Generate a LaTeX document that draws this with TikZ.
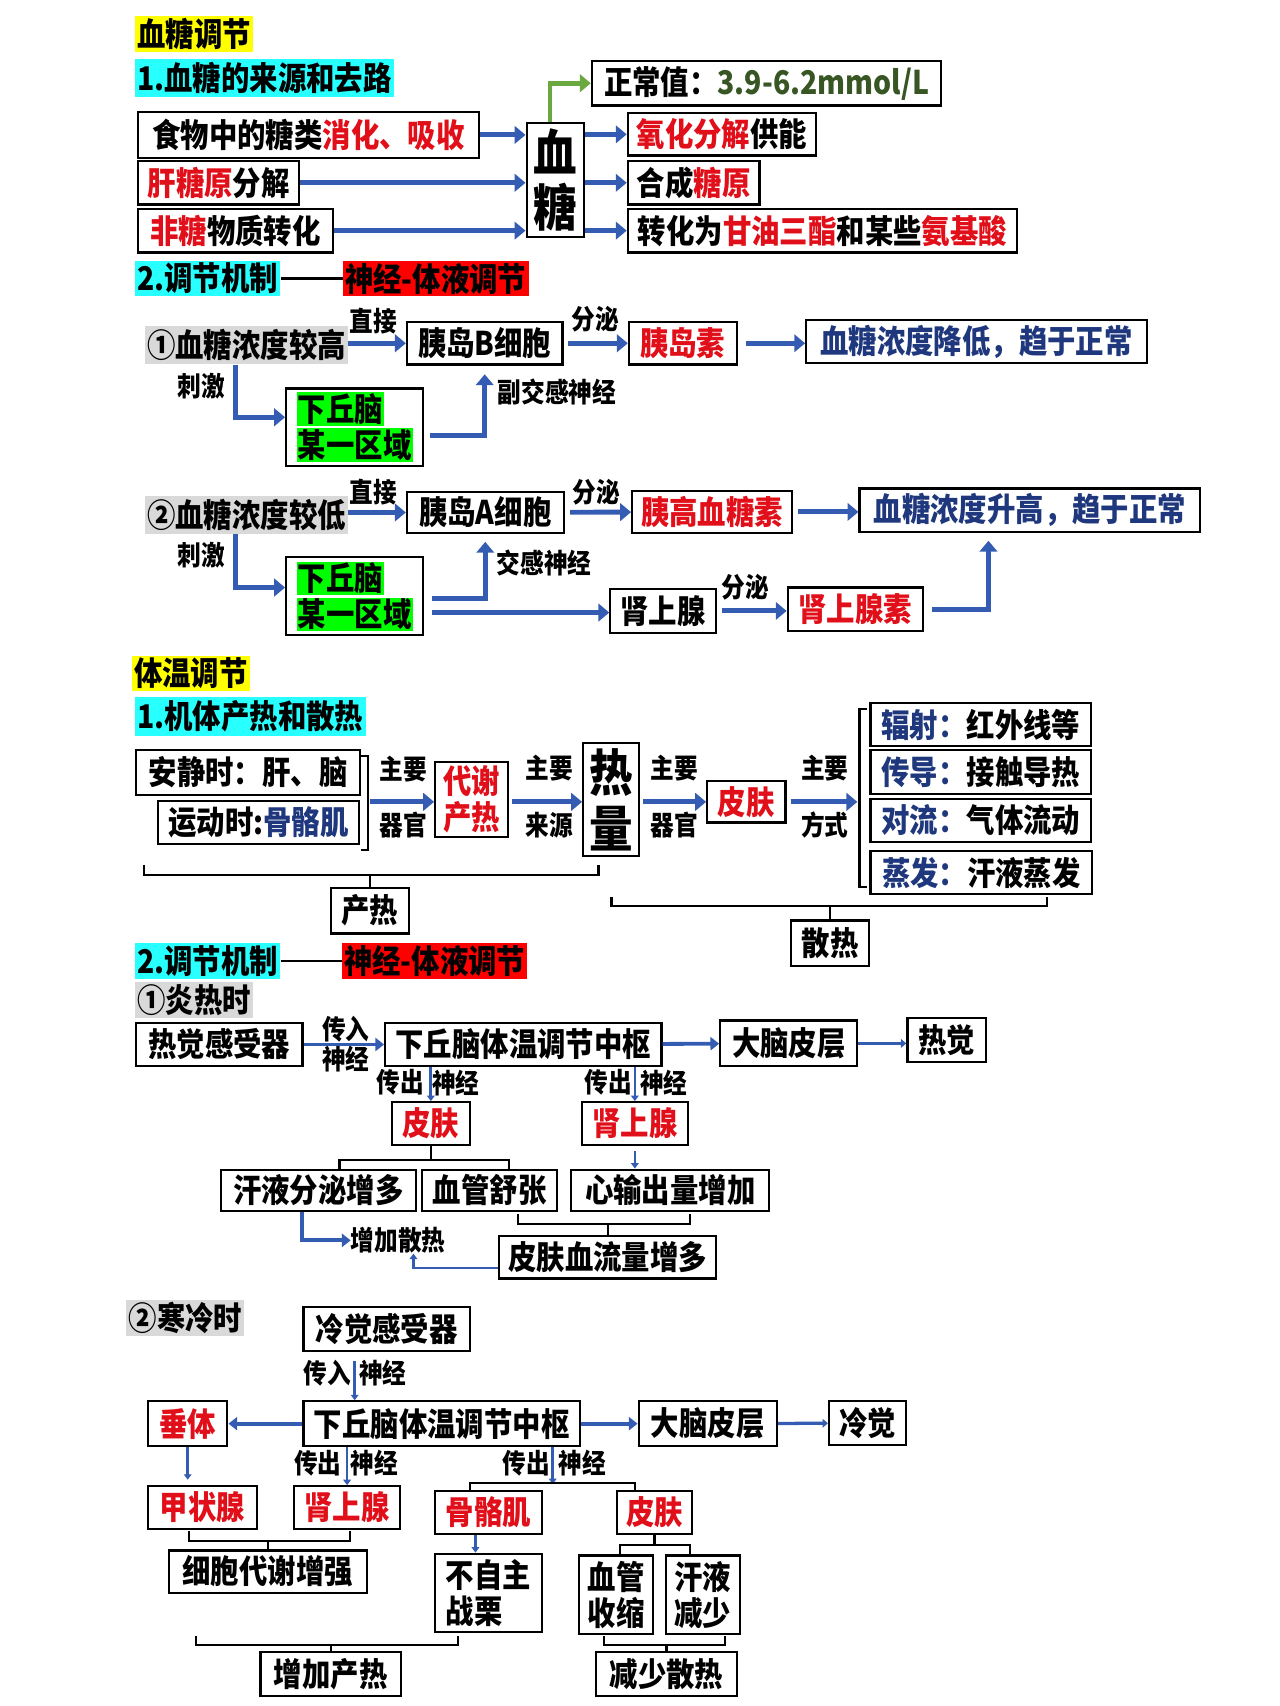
\documentclass[tikz,border=0pt]{standalone}
\usepackage{fontspec}
\setmainfont{Noto Sans CJK SC}[FakeStretch=0.87]
\usepackage{tikz}
\usetikzlibrary{arrows.meta}
\definecolor{hlyellow}{RGB}{255,255,0}
\definecolor{hlcyan}{RGB}{40,255,255}
\definecolor{hlred}{RGB}{255,0,0}
\definecolor{hlgray}{RGB}{217,217,217}
\definecolor{hlgreen}{RGB}{0,255,0}
\definecolor{txtred}{RGB}{225,15,25}
\definecolor{txtnavy}{RGB}{30,55,125}
\definecolor{txtgreen}{RGB}{55,86,35}
\definecolor{arrowblue}{RGB}{52,92,178}
\definecolor{arrowgreen}{RGB}{106,168,64}
\newcommand{\mainsize}{\bfseries\fontsize{30pt}{33pt}\selectfont}
\newcommand{\lblsize}{\bfseries\fontsize{25pt}{27pt}\selectfont}
\newcommand{\bigsize}{\bfseries\fontsize{46pt}{51pt}\selectfont}
\newcommand{\rd}[1]{\textcolor{txtred}{#1}}
\newcommand{\nv}[1]{\textcolor{txtnavy}{#1}}
\newcommand{\hlg}[1]{{\setlength{\fboxsep}{1pt}\colorbox{hlgreen}{#1}}}
\tikzstyle{box} = [
	rectangle,
	draw=black,
	line width=2pt,
	fill=white,
	inner sep=3pt,
	text centered,
	minimum height=40pt
]
\tikzstyle{hl} = [inner sep=2pt, anchor=west]
\tikzstyle{lbl} = [font=\lblsize, inner sep=0pt]
\tikzstyle{brace} = [line width=2pt, draw=black]
\tikzstyle{arrow} = [line width=4.5pt, draw=arrowblue, -{Triangle[length=10pt,width=16pt]}]
\tikzstyle{greenarrow} = [line width=4.5pt, draw=arrowgreen, -{Triangle[length=10pt,width=16pt]}]
\tikzstyle{midarrow} = [line width=3.5pt, draw=arrowblue, -{Triangle[length=8pt,width=12pt]}]
\tikzstyle{thinarrow} = [line width=3pt, draw=arrowblue, -{Triangle[length=5pt,width=8pt]}]
\tikzstyle{nerve} = [line width=2.5pt, draw=arrowblue, -{Triangle[length=5pt,width=7pt]}]
\begin{document}
\begin{tikzpicture}[x=1pt, y=-1pt, font=\mainsize]
	\useasboundingbox (0,0) rectangle (1176,1568);

	% sources and uses of blood sugar
	\node (bsTitle) [hl, fill=hlyellow, minimum height=32pt] at (124,31) {血糖调节};
	\node (srcTitle) [hl, fill=hlcyan, minimum height=35pt] at (124,72) {1.血糖的来源和去路};
	\node (food) [box, minimum width=313pt, minimum height=42pt] at (283.5,124) {食物中的糖类\rd{消化、吸收}};
	\node (liver) [box, minimum width=148pt] at (201,168) {\rd{肝糖原}分解};
	\node (nonsugar) [box, minimum width=179pt] at (216.5,212) {\rd{非糖}物质转化};
	\node (sugar) [box, font=\bigsize, minimum width=53pt, minimum height=105pt, align=center] at (510.5,165.5) {血\\糖};
	\node (normal) [box, minimum width=321pt, minimum height=41pt] at (704.5,76.5) {正常值：\textcolor{txtgreen}{3.9-6.2mmol/L}};
	\node (oxid) [box, minimum width=173pt, minimum height=39pt] at (663.5,123.5) {\rd{氧化分解}供能};
	\node (glycogen) [box, minimum width=121pt] at (637.5,168) {合成\rd{糖原}};
	\node (convert) [box, minimum width=358pt] at (756,212) {转化为\rd{甘油三酯}和某些\rd{氨基酸}};

	\draw [arrow] (food.east) -- (food.east -| sugar.west);
	\draw [arrow] (liver.east) -- (liver.east -| sugar.west);
	\draw [arrow] (nonsugar.east) -- (nonsugar.east -| sugar.west);
	\draw [arrow] (sugar.east |- oxid.west) -- (oxid.west);
	\draw [arrow] (sugar.east |- glycogen.west) -- (glycogen.west);
	\draw [arrow] (sugar.east |- convert.west) -- (convert.west);
	\draw [greenarrow] ([xshift=-5pt]sugar.north) |- (normal.west);

	% regulation of blood sugar
	\node (mechTitle) [hl, fill=hlcyan, minimum height=32pt] at (124,256) {2.调节机制};
	\node (neuro) [hl, fill=hlred, minimum height=32pt] at (315,256) {神经-体液调节};
	\draw [line width=2pt] (mechTitle.east) -- (neuro.west);

	\node (high) [hl, fill=hlgray, minimum height=35pt] at (133,317.5) {①血糖浓度较高};
	\node (beta) [box, minimum width=143pt, minimum height=39pt] at (445.5,315.5) {胰岛B细胞};
	\node (insulin) [box, minimum width=99pt, minimum height=39pt] at (627.5,315.5) {\rd{胰岛素}};
	\node (lower) [box, minimum width=313pt] at (897.5,314) {\nv{血糖浓度降低，趋于正常}};
	\node (direct1) [lbl] at (343,295) {直接};
	\node (secrete1) [lbl] at (547,293) {分泌};
	\node (stim1) [lbl] at (185,355) {刺激};
	\node (hypo1) [box, minimum width=126pt, minimum height=71pt, align=left] at (326,392.5) {\hlg{下丘脑}\\\hlg{某一区域}};
	\node (psym) [lbl] at (512,360) {副交感神经};

	\draw [arrow] (high.east |- beta.west) -- (beta.west);
	\draw [arrow, shorten <=4pt] (beta) -- (insulin);
	\draw [arrow, shorten <=8pt] (insulin.east) -- (insulin.east -| lower.west);
	\draw [arrow] ([xshift=-10pt]high.south) |- ([yshift=9pt]hypo1.west);
	\draw [arrow, shorten <=5pt] ([yshift=-8pt]hypo1.east) -| ([yshift=-8pt]beta.south);

	\node (low) [hl, fill=hlgray, minimum height=35pt] at (133,473) {②血糖浓度较低};
	\node (alpha) [box, minimum width=144pt, minimum height=38pt] at (446,471) {胰岛A细胞};
	\node (glucagon) [box, minimum width=147pt, minimum height=39pt] at (654.5,470.5) {\rd{胰高血糖素}};
	\node (raise) [box, minimum width=313pt] at (946.5,469) {\nv{血糖浓度升高，趋于正常}};
	\node (direct2) [lbl] at (343,452) {直接};
	\node (secrete2) [lbl] at (548,452) {分泌};
	\node (stim2) [lbl] at (185,510) {刺激};
	\node (hypo2) [box, minimum width=126pt, minimum height=72pt, align=left] at (326,548) {\hlg{下丘脑}\\\hlg{某一区域}};
	\node (sym) [lbl] at (500,517) {交感神经};
	\node (adrenal) [box, minimum width=97pt, minimum height=41pt] at (609.5,561.5) {肾上腺};
	\node (secrete3) [lbl] at (685,540) {分泌};
	\node (adrenaline) [box, minimum width=124pt, minimum height=40pt] at (786,560) {\rd{肾上腺素}};

	\draw [arrow] (low.east |- alpha.west) -- (alpha.west);
	\draw [arrow, shorten <=5pt] (alpha) -- (glucagon);
	\draw [arrow, shorten <=4pt] (glucagon.east) -- (glucagon.east -| raise.west);
	\draw [arrow] ([xshift=-10pt]low.south) |- ([yshift=8pt]hypo2.west);
	\draw [arrow, shorten <=7pt] ([yshift=-2pt]hypo2.east) -| ([yshift=-7pt]alpha.south);
	\draw [arrow, shorten <=7pt] ([yshift=-15pt]hypo2.east) -- ([yshift=-15pt]hypo2.east -| adrenal.west);
	\draw [arrow, shorten <=5pt] (adrenal.east) -- (adrenal.east -| adrenaline.west);
	\draw [arrow, shorten <=8pt] (adrenaline.east) -| ([xshift=-38pt,yshift=-7pt]raise.south);

	% heat production and loss
	\node (btTitle) [hl, fill=hlyellow, minimum height=30pt] at (121,619) {体温调节};
	\node (heatTitle) [hl, fill=hlcyan, minimum height=35pt] at (124,658.5) {1.机体产热和散热};
	\node (rest) [box, minimum width=206pt, minimum height=42pt] at (228,710) {安静时：肝、脑};
	\node (exercise) [box, minimum width=185pt, minimum height=40pt] at (237.5,756) {运动时:\nv{骨骼肌}};
	\draw [brace] (332,695) -- (338,695) -- (338,781) -- (332,781);
	\coordinate (prodJoin) at (340,737);
	\node (main1) [lbl] at (371,707) {主要};
	\node (organ1) [lbl] at (371,758) {器官};
	\node (metab) [box, minimum width=67pt, minimum height=69pt, align=center] at (433.5,734.5) {\rd{代谢}\\\rd{产热}};
	\node (main2) [lbl] at (505,706) {主要};
	\node (source) [lbl] at (505,758) {来源};
	\node (heat) [box, font=\bigsize, minimum width=51pt, minimum height=104pt, align=center] at (561.5,735) {热\\量};
	\node (main3) [lbl] at (620,706) {主要};
	\node (organ2) [lbl] at (620,758) {器官};
	\node (skin1) [box, minimum width=72pt, minimum height=38pt] at (686,737) {\rd{皮肤}};
	\node (main4) [lbl] at (758,706) {主要};
	\node (way) [lbl] at (758,758) {方式};
	\coordinate (lossJoin) at (788,737);
	\draw [brace] (797,652) -- (790,652) -- (790,815) -- (797,815);
	\node (radiate) [box, minimum width=203pt, minimum height=40pt] at (901.5,666) {\nv{辐射：}红外线等};
	\node (conduct) [box, minimum width=203pt, minimum height=41pt] at (901.5,709.5) {\nv{传导：}接触导热};
	\node (convect) [box, minimum width=203pt, minimum height=40pt] at (901.5,754) {\nv{对流：}气体流动};
	\node (evapor) [box, minimum width=204pt, minimum height=40pt] at (902,802) {\nv{蒸发：}汗液蒸发};

	\draw [arrow] (prodJoin) -- (prodJoin -| metab.west);
	\draw [arrow, shorten <=3pt] (metab.east |- prodJoin) -- (heat.west |- prodJoin);
	\draw [arrow, shorten <=3pt] (heat.east |- skin1.west) -- (skin1.west);
	\draw [arrow, shorten <=4pt] (skin1.east) -- (lossJoin);

	\node (prod) [box, minimum width=72pt, minimum height=42pt] at (340,837) {产热};
	\draw [brace] (132,795) -- (132,804) -- (550,804) -- (550,795);
	\draw [brace] (prod.north) -- ++(0,-12);
	\node (loss) [box, minimum width=72pt, minimum height=42pt] at (763,867) {散热};
	\draw [brace] (562,824) -- (562,833) -- (962,833) -- (962,824);
	\draw [brace] (loss.north) -- ++(0,-13);

	% regulation of body temperature
	\node (mechTitle2) [hl, fill=hlcyan, minimum height=33pt] at (124,883.5) {2.调节机制};
	\node (neuro2) [hl, fill=hlred, minimum height=33pt] at (314,883.5) {神经-体液调节};
	\draw [line width=2pt] (mechTitle2.east) -- (neuro2.west);

	\node (hot) [hl, fill=hlgray, minimum height=33pt] at (124,919.5) {①炎热时};
	\node (hotRec) [box, minimum width=153pt, minimum height=40pt] at (201.5,960) {热觉感受器};
	\node (aff1a) [lbl] at (318,946) {传入};
	\node (aff1b) [lbl] at (318,973) {神经};
	\node (hotCenter) [box, minimum width=254pt, minimum height=40pt] at (481,960) {下丘脑体温调节中枢};
	\node (cortex1) [box, minimum width=126pt, minimum height=42pt] at (725,959) {大脑皮层};
	\node (hotFeel) [box, minimum width=72pt, minimum height=40pt] at (870,956) {热觉};
	\node (skin2) [box, minimum width=72pt, minimum height=39pt] at (396,1032.5) {\rd{皮肤}};
	\node (adr2) [box, minimum width=97pt, minimum height=39pt] at (583.5,1032.5) {\rd{肾上腺}};
	\node (eff1a) [lbl] at (368,995) {传出};
	\node (eff1b) [lbl] at (419,995) {神经};
	\node (eff2a) [lbl] at (559,995) {传出};
	\node (eff2b) [lbl] at (610,995) {神经};

	\draw [midarrow] (hotRec) -- (hotCenter);
	\draw [midarrow] (hotCenter) -- (cortex1);
	\draw [thinarrow] (cortex1.east) -- (cortex1.east -| hotFeel.west);
	\draw [nerve] (skin2.north |- hotCenter.south) -- (skin2.north);
	\draw [nerve] (adr2.north |- hotCenter.south) -- (adr2.north);

	\node (sweat) [box, minimum width=179pt, minimum height=38pt] at (292.5,1094) {汗液分泌增多};
	\node (vaso) [box, minimum width=124pt, minimum height=38pt] at (450,1094) {血管舒张};
	\node (cardiac) [box, minimum width=182pt, minimum height=38pt] at (616,1094) {心输出量增加};
	\draw [brace] (skin2.south) -- ++(0,14);
	\draw [brace] (312,1074) -- (312,1066) -- (468,1066) -- (468,1074);
	\draw [nerve] ([yshift=-5pt]adr2.south) -- (adr2.south |- cardiac.north);

	\node (bloodflow) [box, minimum width=199pt, minimum height=39pt] at (558.5,1155.5) {皮肤血流量增多};
	\draw [brace] (476,1116) -- (476,1125) -- (634,1125) -- (634,1116);
	\draw [brace] (bloodflow.north) -- ++(0,-10);
	\node (moreLoss) [lbl] at (366,1140) {增加散热};
	\draw [midarrow] ([xshift=-15pt]sweat.south) |- (moreLoss.west);
	\draw [nerve] ([yshift=-10pt]bloodflow.west) -| ([xshift=14pt]moreLoss.south);

	\node (cold) [hl, fill=hlgray, minimum height=33pt] at (116,1211.5) {②寒冷时};
	\node (coldRec) [box, minimum width=153pt, minimum height=41pt] at (355.5,1221.5) {冷觉感受器};
	\node (aff2a) [lbl] at (301,1262) {传入};
	\node (aff2b) [lbl] at (352,1262) {神经};
	\node (coldCenter) [box, minimum width=254pt, minimum height=41pt] at (406,1308.5) {下丘脑体温调节中枢};
	\node (pit) [box, minimum width=73pt, minimum height=41pt] at (172.5,1308.5) {\rd{垂体}};
	\node (cortex2) [box, minimum width=127pt, minimum height=41pt] at (650.5,1308.5) {大脑皮层};
	\node (coldFeel) [box, minimum width=71pt, minimum height=40pt] at (797.5,1308) {冷觉};

	\draw [nerve] ([xshift=-29.5pt,yshift=-8pt]coldRec.south) -- ([xshift=-80pt]coldCenter.north);
	\draw [midarrow] (coldCenter) -- (pit);
	\draw [midarrow] (coldCenter) -- (cortex2);
	\draw [thinarrow] (cortex2) -- (coldFeel);

	\node (thyroid) [box, minimum width=100pt, minimum height=39pt] at (186,1385.5) {\rd{甲状腺}};
	\node (adr3) [box, minimum width=98pt, minimum height=39pt] at (319,1385.5) {\rd{肾上腺}};
	\node (eff3a) [lbl] at (292,1345) {传出};
	\node (eff3b) [lbl] at (344,1345) {神经};
	\node (eff4a) [lbl] at (484,1345) {传出};
	\node (eff4b) [lbl] at (535,1345) {神经};
	\draw [nerve, shorten >=5pt] (pit.south) -- (pit.south |- thyroid.north);
	\draw [nerve] (adr3.north |- coldCenter.south) -- (adr3.north);

	\node (cellMetab) [box, minimum width=182pt, minimum height=39pt] at (246,1444.5) {细胞代谢增强};
	\draw [brace] (174,1407) -- (174,1416) -- (322,1416) -- (322,1407);
	\draw [brace] (cellMetab.north) -- ++(0,-9);

	\draw [nerve] ([xshift=102pt]coldCenter.south) -- ++(0,34);
	\draw [brace] (432,1370) -- (432,1363) -- (584,1363) -- (584,1370);
	\node (skeletal) [box, minimum width=98pt, minimum height=40pt] at (449,1390) {\rd{骨骼肌}};
	\node (skin3) [box, minimum width=69pt, minimum height=40pt] at (601.5,1390) {\rd{皮肤}};
	\node (shiver) [box, minimum width=98pt, minimum height=72pt, align=left] at (449,1464) {不自主\\战栗};
	\draw [nerve] ([xshift=-12pt]skeletal.south) -- ([xshift=-12pt]shiver.north);
	\draw [brace] (skin3.south) -- ++(0,10);
	\draw [brace] (570,1429) -- (570,1420) -- (634,1420) -- (634,1429);
	\node (vasoC) [box, minimum width=68pt, minimum height=72pt, align=center] at (566.5,1465.6) {血管\\收缩};
	\node (sweatC) [box, minimum width=68pt, minimum height=72pt, align=center] at (646,1465.6) {汗液\\减少};

	\node (moreProd) [box, minimum width=129pt, minimum height=40pt] at (304,1538.7) {增加产热};
	\draw [brace] (180,1504) -- (180,1512) -- (421,1512) -- (421,1504);
	\draw [brace] (moreProd.north) -- ++(0,-7);
	\node (lessLoss) [box, minimum width=129pt, minimum height=40pt] at (612.5,1538.7) {减少散热};
	\draw [brace] (555,1504) -- (555,1512) -- (666,1512) -- (666,1504);
	\draw [brace] (lessLoss.north) -- ++(0,-7);
\end{tikzpicture}
\end{document}
